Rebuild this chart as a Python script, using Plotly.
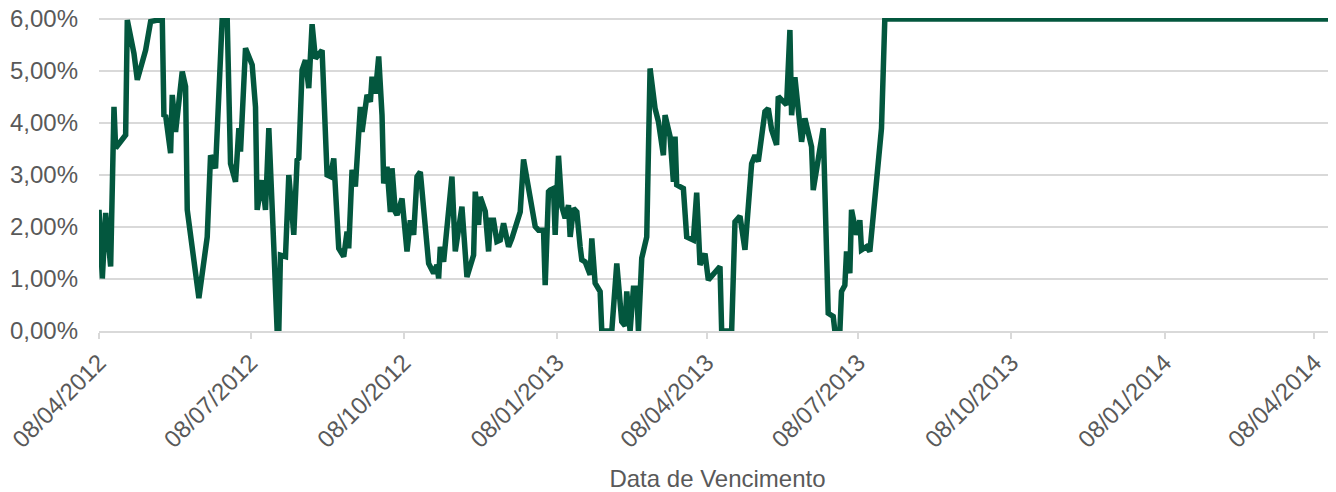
import plotly.graph_objects as go

dates = [
    "2012-04-08", "2012-04-10", "2012-04-12", "2012-04-15", "2012-04-17", "2012-04-18",
    "2012-04-24", "2012-04-25", "2012-04-29", "2012-05-01", "2012-05-06", "2012-05-09",
    "2012-05-16", "2012-05-17", "2012-05-18", "2012-05-21", "2012-05-22", "2012-05-24",
    "2012-05-28", "2012-05-30", "2012-05-31", "2012-06-05", "2012-06-07", "2012-06-12",
    "2012-06-14", "2012-06-17", "2012-06-20", "2012-06-21", "2012-06-24", "2012-06-26",
    "2012-06-29", "2012-07-01", "2012-07-02", "2012-07-05", "2012-07-09", "2012-07-11",
    "2012-07-12", "2012-07-15", "2012-07-17", "2012-07-19", "2012-07-22", "2012-07-24",
    "2012-07-25", "2012-07-26", "2012-07-29", "2012-07-31", "2012-08-03", "2012-08-05",
    "2012-08-06", "2012-08-08", "2012-08-10", "2012-08-12", "2012-08-14", "2012-08-16",
    "2012-08-20", "2012-08-23", "2012-08-25", "2012-08-27", "2012-08-30", "2012-09-02",
    "2012-09-04", "2012-09-05", "2012-09-07", "2012-09-09", "2012-09-12", "2012-09-13",
    "2012-09-16", "2012-09-18", "2012-09-19", "2012-09-21", "2012-09-23", "2012-09-25",
    "2012-09-26", "2012-09-28", "2012-09-30", "2012-10-01", "2012-10-03", "2012-10-04",
    "2012-10-07", "2012-10-10", "2012-10-12", "2012-10-14", "2012-10-16", "2012-10-18",
    "2012-10-23", "2012-10-26", "2012-10-28", "2012-10-29", "2012-10-30", "2012-11-01",
    "2012-11-06", "2012-11-08", "2012-11-12", "2012-11-15", "2012-11-19", "2012-11-20",
    "2012-11-22", "2012-11-23", "2012-11-26", "2012-11-28", "2012-11-29", "2012-12-01",
    "2012-12-03", "2012-12-05", "2012-12-07", "2012-12-10", "2012-12-12", "2012-12-17",
    "2012-12-19", "2012-12-26", "2012-12-28", "2012-12-31", "2013-01-01", "2013-01-03",
    "2013-01-04", "2013-01-06", "2013-01-07", "2013-01-09", "2013-01-11", "2013-01-13",
    "2013-01-15", "2013-01-16", "2013-01-18", "2013-01-20", "2013-01-22", "2013-01-23",
    "2013-01-25", "2013-01-28", "2013-01-29", "2013-01-31", "2013-02-03", "2013-02-04",
    "2013-02-10", "2013-02-13", "2013-02-16", "2013-02-18", "2013-02-19", "2013-02-21",
    "2013-02-23", "2013-02-25", "2013-02-26", "2013-02-28", "2013-03-03", "2013-03-05",
    "2013-03-08", "2013-03-10", "2013-03-13", "2013-03-14", "2013-03-17", "2013-03-19",
    "2013-03-20", "2013-03-21", "2013-03-25", "2013-03-27", "2013-03-31", "2013-04-02",
    "2013-04-04", "2013-04-07", "2013-04-09", "2013-04-16", "2013-04-17", "2013-04-23",
    "2013-04-25", "2013-04-28", "2013-05-01", "2013-05-05", "2013-05-07", "2013-05-09",
    "2013-05-13", "2013-05-15", "2013-05-17", "2013-05-20", "2013-05-21", "2013-05-26",
    "2013-05-28", "2013-05-29", "2013-05-31", "2013-06-02", "2013-06-04", "2013-06-06",
    "2013-06-08", "2013-06-10", "2013-06-11", "2013-06-17", "2013-06-20", "2013-06-23",
    "2013-06-24", "2013-06-27", "2013-06-28", "2013-06-30", "2013-07-01", "2013-07-03",
    "2013-07-04", "2013-07-07", "2013-07-09", "2013-07-10", "2013-07-13", "2013-07-15",
    "2013-07-17", "2013-07-22", "2013-07-24", "2014-04-30",
]

rates = [
    2.33, 1.01, 2.27, 1.24, 4.31, 3.52,
    3.77, 5.98, 5.34, 4.83, 5.40, 5.95,
    6.00, 4.12, 4.15, 3.42, 4.54, 3.83,
    4.99, 4.70, 2.33, 0.98, 0.63, 1.81,
    3.38, 3.13, 5.60, 6.00, 6.00, 3.22,
    2.87, 3.90, 3.45, 5.44, 5.12, 4.31,
    2.33, 2.90, 2.33, 3.90, 1.62, 0.00,
    0.00, 1.46, 1.43, 3.00, 1.85, 3.29,
    3.32, 5.02, 5.21, 4.67, 5.90, 5.24,
    5.40, 3.00, 2.97, 3.32, 1.59, 1.43,
    1.91, 1.59, 3.10, 2.78, 4.31, 3.83,
    4.54, 4.41, 4.89, 4.57, 5.28, 4.15,
    2.84, 3.16, 2.29, 3.13, 2.29, 2.23,
    2.55, 1.53, 2.13, 1.85, 2.97, 3.06,
    1.30, 1.11, 1.27, 1.01, 1.62, 1.33,
    2.97, 1.53, 2.39, 1.04, 1.46, 2.68,
    2.04, 2.58, 2.30, 1.53, 2.13, 2.13,
    1.72, 1.75, 2.07, 1.62, 1.78, 2.29,
    3.30, 2.01, 1.94, 1.94, 0.88, 2.68,
    2.71, 2.74, 1.85, 3.37, 2.39, 2.17,
    2.42, 1.81, 2.36, 2.29, 1.62, 1.37,
    1.33, 1.08, 1.78, 0.92, 0.76, 0.00,
    0.00, 1.30, 0.18, 0.10, 0.76, 0.00,
    0.82, 0.82, 0.00, 1.40, 1.81, 5.05,
    4.28, 4.03, 3.38, 4.15, 3.74, 2.87,
    3.74, 2.81, 2.74, 1.81, 1.75, 2.66,
    1.27, 1.49, 0.98, 1.24, 0.00, 0.00,
    2.10, 2.21, 1.56, 3.22, 3.38, 3.26,
    4.22, 4.28, 3.87, 3.58, 4.51, 4.35,
    5.79, 4.15, 4.88, 4.19, 3.64, 4.09,
    3.80, 3.54, 2.71, 3.90, 0.34, 0.28,
    0.00, 0.00, 0.76, 0.88, 1.53, 1.11,
    2.33, 1.85, 2.13, 1.56, 1.62, 1.53,
    2.20, 3.90, 6.00, 6.00,
]

tick_dates = ["2012-04-08", "2012-07-08", "2012-10-08", "2013-01-08", "2013-04-08",
              "2013-07-08", "2013-10-08", "2014-01-08", "2014-04-08"]
tick_labels = ["08/04/2012", "08/07/2012", "08/10/2012", "08/01/2013", "08/04/2013",
               "08/07/2013", "08/10/2013", "08/01/2014", "08/04/2014"]
y_ticks = [0, 1, 2, 3, 4, 5, 6]
y_labels = ["0,00%", "1,00%", "2,00%", "3,00%", "4,00%", "5,00%", "6,00%"]
x_title = "Data de Vencimento"

FONT = "Liberation Sans, Arial, sans-serif"
GREY = "#595959"
GRID = "#d9d9d9"

fig = go.Figure()
fig.add_trace(go.Scatter(
    x=dates, y=rates, mode="lines",
    line=dict(color="#03573E", width=5.5),
    hoverinfo="skip", showlegend=False,
))

# the page body adds an 8px margin, so the figure is sized to fit the 1336x492 window
fig.update_layout(
    width=1328, height=484,
    margin=dict(l=91, r=0, t=10, b=161, autoexpand=False),
    paper_bgcolor="white", plot_bgcolor="white",
    font=dict(family=FONT, size=24, color=GREY),
    showlegend=False,
)
fig.update_xaxes(
    type="date", automargin=False, ticklabeloverflow="allow",
    range=["2012-04-08", "2014-04-21"],
    tickmode="array", tickvals=tick_dates, ticktext=tick_labels,
    tickangle=-45,
    ticks="outside", ticklen=6, tickcolor=GRID, tickwidth=2,
    showline=True, linecolor=GRID, linewidth=2,
    showgrid=False, zeroline=False,
    tickfont=dict(family=FONT, size=24, color=GREY),
    title=dict(text=x_title, font=dict(family=FONT, size=24, color=GREY), standoff=21),
)
fig.update_yaxes(
    range=[0, 6.02], automargin=False, ticklabeloverflow="allow",
    tickmode="array", tickvals=y_ticks, ticktext=y_labels,
    showgrid=True, gridcolor=GRID, gridwidth=2,
    zeroline=False, showline=False, ticks="",
    ticklabelstandoff=20,
    tickfont=dict(family=FONT, size=24, color=GREY),
)

fig.write_html("out.html")
